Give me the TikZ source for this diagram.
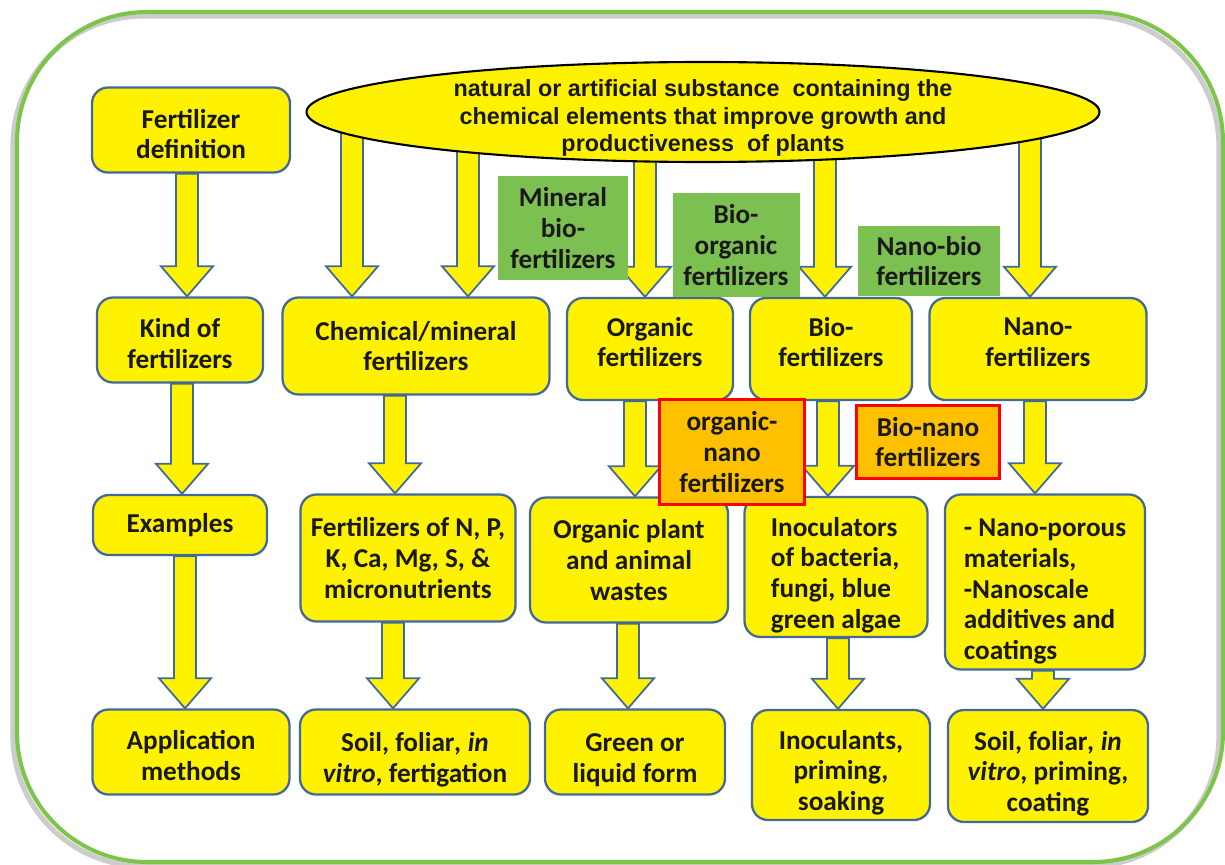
\documentclass[tikz,border=0pt]{standalone}
\usepackage{fontspec}
\setmainfont{Carlito}
\newfontfamily\ellfont{Liberation Sans}
\usepackage{xcolor}
\usetikzlibrary{
	arrows.meta,
	calc,
	backgrounds,
	shapes.geometric
}

\definecolor{boxblue}{RGB}{65,105,155}
\definecolor{leafgreen}{RGB}{125,192,82}
\definecolor{framegreen}{RGB}{125,196,75}
\definecolor{darkorange}{RGB}{255,192,0}
\newcommand{\boxfont}{\fontsize{15.5}{17.5}\selectfont\bfseries}
% struts to move the text inside a box
\newcommand{\tall}[1]{\rule{0pt}{#1}}
\newcommand{\deep}[1]{\rule[-#1]{0pt}{0pt}}
% block arrow: x position, start point, end point
\newcommand{\fatarrow}[3]{%
	\draw[fatarr] let \p0=(#1,0), \p1=(#2), \p2=(#3) in
	(\x0-0.22cm,\y1) -- (\x0+0.22cm,\y1) -- (\x0+0.22cm,\y2+0.6cm)
	-- (\x0+0.52cm,\y2+0.6cm) -- (\x0,\y2) -- (\x0-0.52cm,\y2+0.6cm)
	-- (\x0-0.22cm,\y2+0.6cm) -- cycle;}

\begin{document}
\begin{tikzpicture}[x=0.02cm, y=-0.02cm,
	sz/.style 2 args={minimum width=#1*0.02cm, minimum height=#2*0.02cm},
	ybox/.style={draw=boxblue, fill=yellow, line width=1.3pt, rounded corners=0.32cm, align=center, font=\boxfont, text=black!90, inner sep=1pt},
	gbox/.style={fill=leafgreen, align=center, font=\boxfont, text=black!90, inner sep=1pt},
	obox/.style={draw=red, fill=darkorange, line width=1.3pt, align=center, font=\boxfont, text=black!90, inner sep=1pt},
	fatarr/.style={draw=boxblue, fill=yellow, line width=1pt}]
	\useasboundingbox (0,0) rectangle (1225,865);
	
	% frame
	\draw[black!20, line width=3pt, rounded corners=2.6cm] (13,16) rectangle (1219,866);
	\draw[framegreen, line width=2.3pt, rounded corners=2.6cm] (17,12) rectangle (1223,862);
	
	\node[ellipse, draw=black, fill=yellow, line width=1.2pt, inner sep=0pt, sz={793}{100},
		label={[yshift=-0.12cm, align=center, text=black!90,
			font=\ellfont\bfseries\fontsize{13.3}{15.4}\selectfont]center:{natural or artificial substance~ containing the\\chemical elements that improve growth and\\productiveness~ of plants}}]
		(ell) at (703,112) {};
	
	% left column
	\node[ybox, sz={198}{85}] (fdef) at (191,130) {\tall{15.5pt}Fertilizer\\definition};
	\node[ybox, sz={166}{85}] (kind) at (180,340) {\tall{14.5pt}Kind of\\fertilizers};
	\node[ybox, sz={174}{60}] (exam) at (180,525) {Examples};
	\node[ybox, sz={197}{85}] (appl) at (191,752) {\tall{15pt}Application\\methods};
	
	% kinds
	\node[ybox, sz={267}{97}] (chem) at (416,346) {Chemical/mineral\\fertilizers};
	\node[ybox, sz={166}{102}] (org) at (650,349) {Organic\\fertilizers\deep{8pt}};
	\node[ybox, sz={162}{102}] (bio) at (831,349) {Bio-\\fertilizers\deep{8pt}};
	\node[ybox, sz={217}{102}] (nano) at (1038,349) {Nano-\\fertilizers\deep{8pt}};
	
	% examples
	\node[ybox, sz={215}{127}] (chex) at (408,558) {Fertilizers of N, P,\\K, Ca, Mg, S, \&\\micronutrients};
	\node[ybox, sz={198}{125}] (orgex) at (629,560) {Organic plant\\and animal\\wastes};
	\node[ybox, sz={183}{140}, align=left] (bioex) at (836,567) {\tall{20pt}Inoculators\\of bacteria,\\fungi, blue\\green algae};
	\node[ybox, sz={200}{175}, align=left] (nanoex) at (1045,582) {\tall{21pt}- Nano-porous\\materials,\\-Nanoscale\\additives and\\coatings};
	
	% application methods
	\node[ybox, sz={230}{85}] (chap) at (415,752) {\tall{19.5pt}Soil, foliar\textit{, in}\\\textit{vitro}, fertigation};
	\node[ybox, sz={180}{85}] (orgap) at (635,752) {\tall{19.5pt}Green or\\liquid form};
	\node[ybox, sz={178}{110}] (bioap) at (841,765) {\tall{19.5pt}Inoculants,\\priming,\\soaking};
	\node[ybox, sz={200}{112}] (nanoap) at (1048,766) {\tall{19.5pt}Soil, foliar\textit{, in}\\\textit{vitro}, priming,\\coating};
	
	\begin{scope}[on background layer]
		\fatarrow{187}{fdef.south}{kind.north}
		\fatarrow{182}{kind.south}{exam.north}
		\fatarrow{185}{exam.south}{appl.north}
		\fatarrow{352}{ell.center}{chem.north}
		\fatarrow{468}{ell.center}{chem.north}
		\fatarrow{645}{ell.center}{org.north}
		\fatarrow{825}{ell.center}{bio.north}
		\fatarrow{1030}{ell.center}{nano.north}
		\fatarrow{395}{chem.south}{chex.north}
		\fatarrow{393}{chex.south}{chap.north}
		\fatarrow{635}{org.south}{orgex.north}
		\fatarrow{628}{orgex.south}{orgap.north}
		\fatarrow{828}{bio.south}{bioex.north}
		\fatarrow{838}{bioex.south}{bioap.north}
		\fatarrow{1035}{nano.south}{nanoex.north}
		\fatarrow{1043}{nanoex.south}{nanoap.north}
	\end{scope}
	
	% mixed kinds
	\node[gbox, sz={130}{103}] (minbio) at (563,228) {Mineral\\bio-\\fertilizers};
	\node[gbox, sz={127}{103}] (bioorg) at (736,245) {Bio-\\organic\\fertilizers};
	\node[gbox, sz={142}{70}] (nanobio) at (929,261) {Nano-bio\\fertilizers};
	\node[obox, sz={145}{105}] (orgnano) at (732,452) {organic-\\nano\\fertilizers};
	\node[obox, sz={143}{73}] (bionano) at (928,442) {Bio-nano\\fertilizers};
\end{tikzpicture}
\end{document}
